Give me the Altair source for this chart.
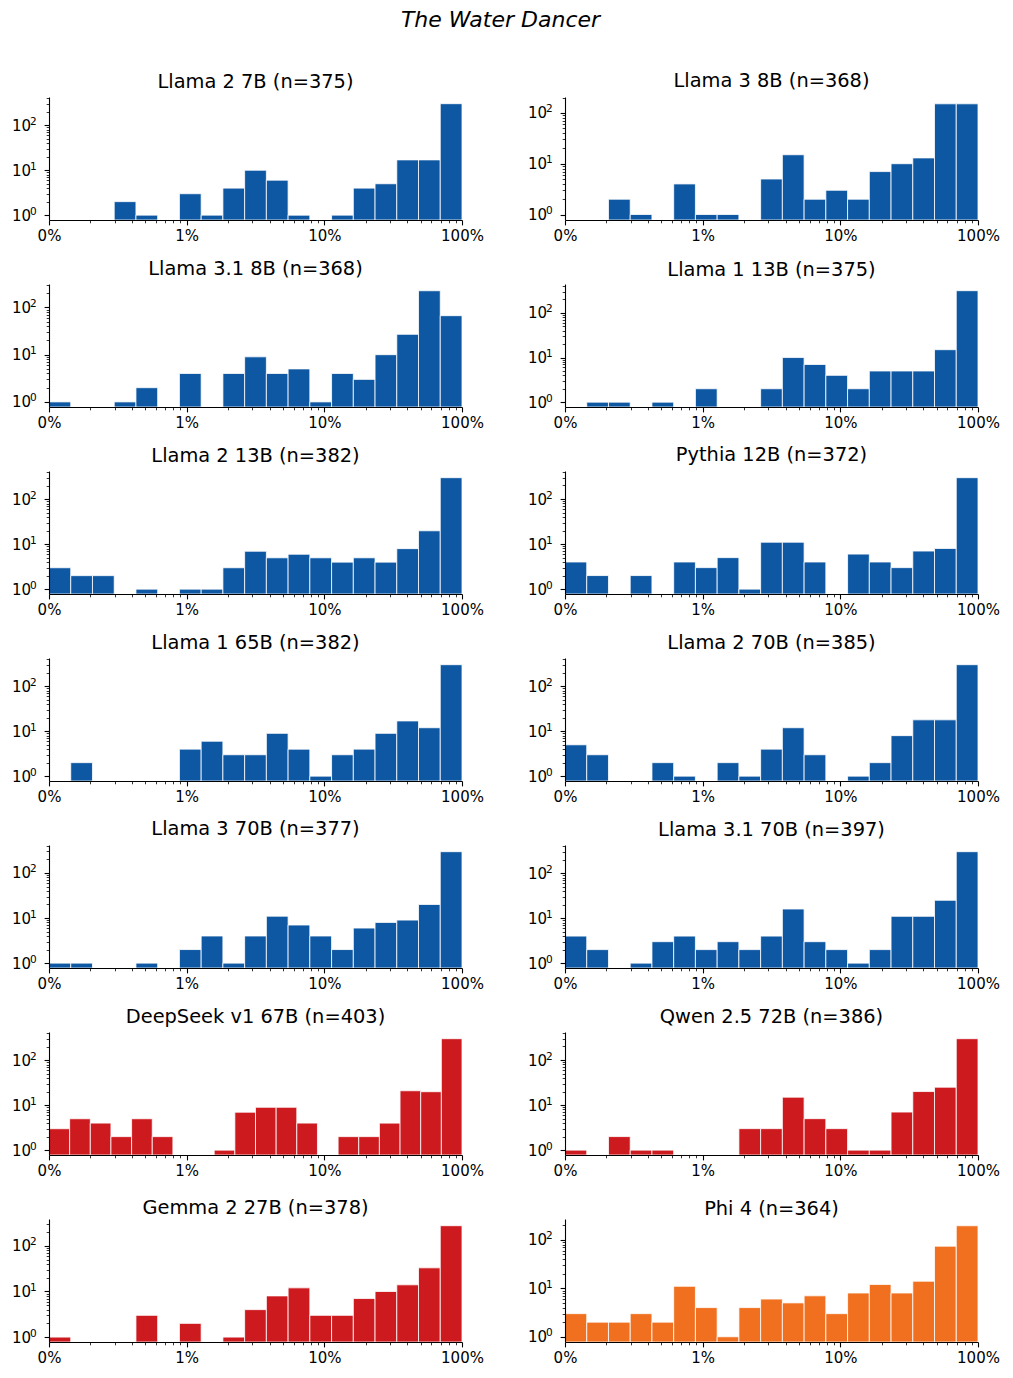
import math
import altair as alt
import pandas as pd

# ---- data (counts per log-spaced bin, from 0.1% to 100%) ----
titles = [
    "Llama 2 7B (n=375)", "Llama 3 8B (n=368)",
    "Llama 3.1 8B (n=368)", "Llama 1 13B (n=375)",
    "Llama 2 13B (n=382)", "Pythia 12B (n=372)",
    "Llama 1 65B (n=382)", "Llama 2 70B (n=385)",
    "Llama 3 70B (n=377)", "Llama 3.1 70B (n=397)",
    "DeepSeek v1 67B (n=403)", "Qwen 2.5 72B (n=386)",
    "Gemma 2 27B (n=378)", "Phi 4 (n=364)",
]
llama2_7b = [0, 0, 0, 2, 1, 0, 3, 1, 4, 10, 6, 1, 0, 1, 4, 5, 17, 17, 303]
llama3_8b = [0, 0, 2, 1, 0, 4, 1, 1, 0, 5, 15, 2, 3, 2, 7, 10, 13, 151, 151]
llama31_8b = [1, 0, 0, 1, 2, 0, 4, 0, 4, 9, 4, 5, 1, 4, 3, 10, 27, 226, 67]
llama1_13b = [0, 1, 1, 0, 1, 0, 2, 0, 0, 2, 10, 7, 4, 2, 5, 5, 5, 15, 315]
llama2_13b = [3, 2, 2, 0, 1, 0, 1, 1, 3, 7, 5, 6, 5, 4, 5, 4, 8, 20, 305]
pythia_12b = [4, 2, 0, 2, 0, 4, 3, 5, 1, 11, 11, 4, 0, 6, 4, 3, 7, 8, 297]
llama1_65b = [0, 2, 0, 0, 0, 0, 4, 6, 3, 3, 9, 4, 1, 3, 4, 9, 17, 12, 305]
llama2_70b = [5, 3, 0, 0, 2, 1, 0, 2, 1, 4, 12, 3, 0, 1, 2, 8, 18, 18, 305]
llama3_70b = [1, 1, 0, 0, 1, 0, 2, 4, 1, 4, 11, 7, 4, 2, 6, 8, 9, 20, 296]
llama31_70b = [4, 2, 0, 1, 3, 4, 2, 3, 2, 4, 16, 3, 2, 1, 2, 11, 11, 25, 301]
deepseek_67b = [3, 5, 4, 2, 5, 2, 0, 0, 1, 7, 9, 9, 4, 0, 2, 2, 4, 21, 20, 303]
qwen25_72b = [1, 0, 2, 1, 1, 0, 0, 0, 3, 3, 15, 5, 3, 1, 1, 7, 20, 25, 298]
gemma2_27b = [1, 0, 0, 0, 3, 0, 2, 0, 1, 4, 8, 12, 3, 3, 7, 10, 14, 33, 277]
phi4 = [3, 2, 2, 3, 2, 11, 4, 1, 4, 6, 5, 7, 3, 8, 12, 8, 14, 74, 195]

series = [llama2_7b, llama3_8b, llama31_8b, llama1_13b, llama2_13b, pythia_12b,
          llama1_65b, llama2_70b, llama3_70b, llama31_70b, deepseek_67b,
          qwen25_72b, gemma2_27b, phi4]
BLUE, RED, ORANGE = "#0e57a2", "#cc1a1f", "#f0701f"
colors = [BLUE] * 10 + [RED, RED, RED, ORANGE]

y_major = [1, 10, 100]
y_exponents = ["0", "1", "2"]

FONT = "DejaVu Sans"
W, H = 413, 123
MAJOR = "abs(log(datum.value)/LN10 - round(log(datum.value)/LN10)) < 0.001"

x_ticks = [m * 10.0 ** e for e in range(-3, 0) for m in range(1, 10)] + [1.0]


def panel(title, counts, color):
    k = len(counts)
    rows = []
    for i, c in enumerate(counts):
        if c > 0:
            rows.append({"lo": 10 ** (-3 + 3 * i / k),
                         "hi": 10 ** (-3 + 3 * (i + 1) / k),
                         "count": c})
    df = pd.DataFrame(rows)
    L = math.log10(max(counts))
    top = 10 ** (L + 0.05 * (L + 0.5))
    y_ticks = [m * 10.0 ** e for e in range(0, 3) for m in range(1, 10)
               if m * 10.0 ** e <= top]
    exp_df = pd.DataFrame({"count": y_major, "exp": y_exponents})
    exp_df = exp_df[exp_df["count"] <= top]
    common = dict(
        grid=False, domainColor="black", tickColor="black", domainWidth=1.1,
        labelColor="black", labelFont=FONT, labelFontSize=15,
        labelOverlap=False, labelFlush=False, title=None, zindex=1,
        tickSize={"condition": {"test": MAJOR, "value": 4.9}, "value": 2.8},
        tickWidth={"condition": {"test": MAJOR, "value": 1.1}, "value": 0.8},
    )
    xaxis = alt.Axis(
        values=x_ticks,
        labelExpr=MAJOR + " ? format(datum.value*100, '.0f') + '%' : ''",
        labelPadding=4,
        **common,
    )
    yaxis = alt.Axis(
        values=y_ticks,
        labelExpr="datum.value == 1 || datum.value == 10 || datum.value == 100 ? '10' : ''",
        labelPadding=13.5,
        **common,
    )
    yscale = alt.Scale(type="log", domain=[0.78, top], nice=False)
    bars = alt.Chart(df).mark_bar(color=color, stroke="white", strokeWidth=0.8, clip=True).encode(
        x=alt.X("lo:Q", scale=alt.Scale(type="log", domain=[0.001, 1], nice=False), axis=xaxis),
        x2="hi:Q",
        y=alt.Y("count:Q", scale=yscale, axis=yaxis),
        y2=alt.value(H),
    )
    exps = alt.Chart(exp_df).mark_text(
        align="left", baseline="bottom", fontSize=10.5, font=FONT, color="black", dy=1.5
    ).encode(
        x=alt.value(-19),
        y=alt.Y("count:Q", scale=yscale, axis=yaxis),
        text="exp:N",
    )
    return alt.layer(bars, exps).properties(
        width=W, height=H,
        title=alt.TitleParams(title, fontSize=19.4, font=FONT, fontWeight="normal",
                              color="black", offset=-1),
    )


panels = [panel(t, s, c) for t, s, c in zip(titles, series, colors)]

chart = alt.concat(*panels, columns=2, spacing={"row": 64, "column": 103}, bounds="flush").properties(
    title=alt.TitleParams("The Water Dancer", fontSize=22, font=FONT, fontStyle="italic",
                          fontWeight="normal", color="black", anchor="middle", offset=39, dx=-5),
    padding={"left": 11, "top": 9, "right": 10, "bottom": 10},
).configure(font=FONT, view=alt.ViewConfig(stroke=None))

chart.save("out.html", embed_options={"renderer": "svg", "actions": False})
